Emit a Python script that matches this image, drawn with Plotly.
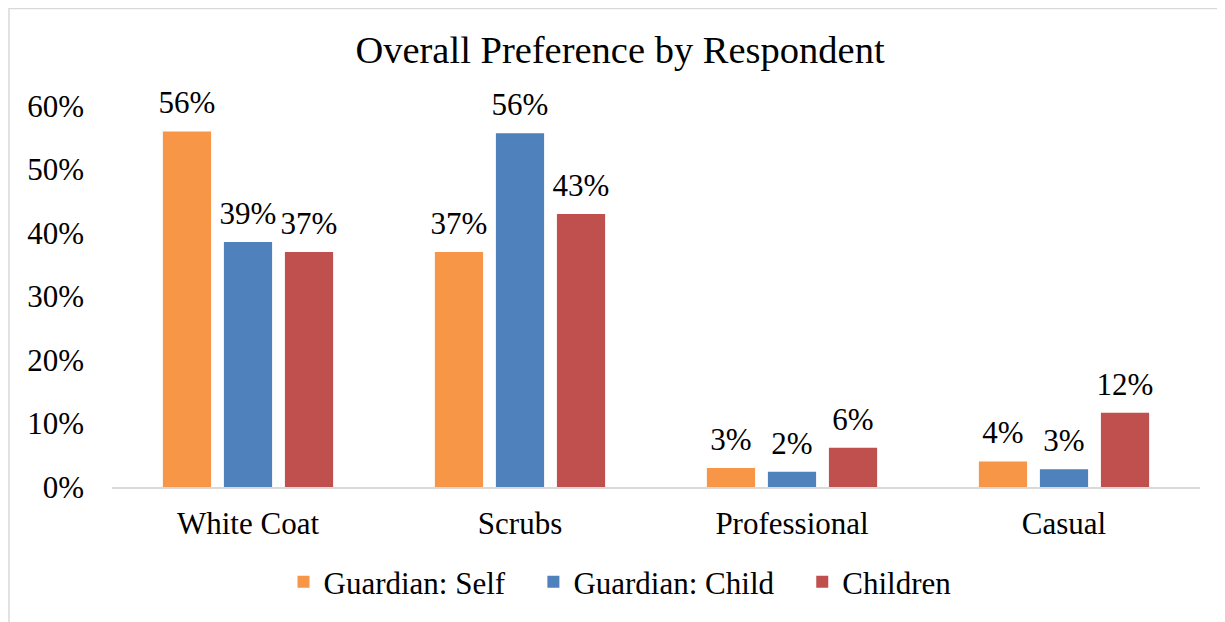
import plotly.graph_objects as go

categories = ["White Coat", "Scrubs", "Professional", "Casual"]
guardian_self = [0.56, 0.37, 0.03, 0.04]
guardian_child = [0.386, 0.557, 0.024, 0.028]
children = [0.37, 0.43, 0.062, 0.117]
series_names = ["Guardian: Self", "Guardian: Child", "Children"]
colors = ["#F79646", "#4F81BD", "#C0504D"]
tick_vals = [0, 0.1, 0.2, 0.3, 0.4, 0.5, 0.6]
tick_text = ["0%", "10%", "20%", "30%", "40%", "50%", "60%"]

FONT = "Liberation Serif"
FS = 31
PAD = "\u00a0\u00a0\u00a0"

fig = go.Figure()
series = [guardian_self, guardian_child, children]
for i, (name, vals, col) in enumerate(zip(series_names, series, colors)):
    fig.add_trace(go.Bar(
        x=categories, y=vals, name=name + (PAD if i < 2 else ""), offsetgroup=str(i),
        marker=dict(color=col, line=dict(width=0)),
    ))
for i, (name, vals) in enumerate(zip(series_names, series)):
    fig.add_trace(go.Scatter(
        x=categories, y=vals, mode="markers+text", offsetgroup=str(i),
        text=[f"{round(v*100):d}%" for v in vals], textposition="top center",
        textfont=dict(family=FONT, size=FS, color="black"),
        marker=dict(size=15, color="rgba(0,0,0,0)"),
        cliponaxis=False, showlegend=False, hoverinfo="skip",
    ))

fig.update_layout(
    width=1217, height=614,
    margin=dict(l=104, r=25, t=98, b=135, autoexpand=False),
    paper_bgcolor="white", plot_bgcolor="white",
    barmode="group", bargap=0.327, bargroupgap=0.21,
    scattermode="group", scattergap=0.327,
    title=dict(text="Overall Preference by Respondent", x=(620 - 8) / 1217, xanchor="center",
               y=1 - 42 / 614, yanchor="middle",
               font=dict(family=FONT, size=38.5, color="black")),
    font=dict(family=FONT, size=FS, color="black"),
    xaxis=dict(showline=True, linecolor="#D9D9D9", linewidth=2, ticks="",
               tickfont=dict(family=FONT, size=FS, color="black"), ticklabelstandoff=8),
    yaxis=dict(range=[0, 0.6], tickvals=tick_vals, ticktext=tick_text,
               showgrid=False, zeroline=False, showline=False,
               tickfont=dict(family=FONT, size=FS, color="black"), ticklabelstandoff=27),
    legend=dict(orientation="h", xref="container", x=(620 - 8) / 1217, xanchor="center",
                yref="container", y=(622 - 582) / 614, yanchor="middle",
                font=dict(family=FONT, size=FS, color="black")),
    showlegend=True,
    shapes=[dict(type="rect", xref="paper", yref="paper",
                 x0=-103 / 1088, x1=1 + 200 / 1088, y0=-300 / 381, y1=1 + 97.5 / 381,
                 line=dict(color="#D9D9D9", width=1.5), fillcolor="rgba(0,0,0,0)", layer="below")],
)

fig.write_html("out.html")
